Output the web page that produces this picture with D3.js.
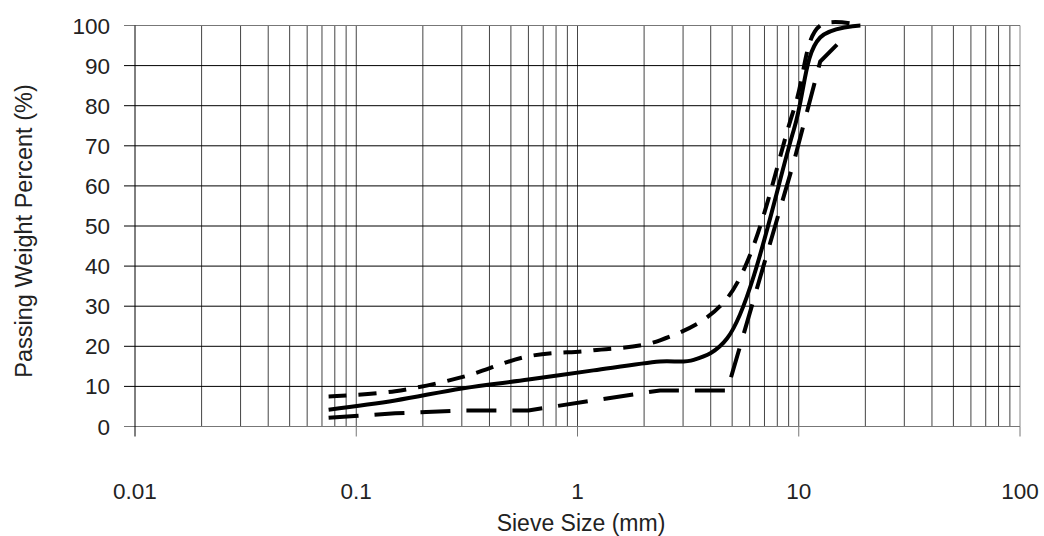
<!DOCTYPE html>
<html>
<head>
<meta charset="utf-8">
<script src="https://cdn.jsdelivr.net/npm/d3@7"></script>
<style>
  body { margin: 0; background: #fff; }
  svg text { font-family: "Liberation Sans", Arial, sans-serif; fill: #222; }
</style>
</head>
<body>
<div id="chartPlaceholder"></div>
<script>
// gradation data (sieve size in mm, % passing)
const mixSizes = [0.075, 0.15, 0.3, 0.6, 1.18, 2.36, 3.35, 4.75, 9.5, 12.5, 19];
const mixPassing = [4.2, 6.5, 9.5, 11.7, 14, 16.2, 16.6, 22, 74, 97, 100];

const upperSizes = [0.075, 0.15, 0.3, 0.6, 1.18, 2.36, 4.75, 9.5, 12.5, 19];
const upperPassing = [7.5, 8.8, 12.3, 17.5, 19, 21.5, 32, 79, 100, 100];

const lowerSizes = [0.075, 0.15, 0.3, 0.6, 1.18, 2.36, 4.75, 9.5, 12.5, 16];
const lowerPassing = [2.2, 3.3, 4, 4, 6.5, 9, 9, 66, 91, 97];

const xTickValues = [0.01, 0.1, 1, 10, 100];
const xTickLabels = ["0.01", "0.1", "1", "10", "100"];
const yTickValues = [0, 10, 20, 30, 40, 50, 60, 70, 80, 90, 100];

const width = 1044,
  height = 536;

const svg = d3
  .select("#chartPlaceholder")
  .append("svg")
  .attr("width", width)
  .attr("height", height);

const x = d3.scaleLog().domain([0.01, 100]).range([135, 1020]);
const y = d3.scaleLinear().domain([0, 100]).range([426.5, 25.5]);

// vertical log grid (1..9 per decade)
const gridX = [];
for (let d = 0.01; d < 99; d *= 10) {
  for (let k = 1; k <= 9; k++) gridX.push(+(k * d).toPrecision(3));
}
gridX.push(100);

svg
  .append("g")
  .selectAll("line")
  .data(gridX.filter((v) => v > 0.01))
  .join("line")
  .attr("x1", (d) => x(d))
  .attr("x2", (d) => x(d))
  .attr("y1", y(100))
  .attr("y2", y(0))
  .attr("stroke", (d) => (d === 100 ? "#888" : "#444"))
  .attr("stroke-width", 1);

// horizontal grid + y ticks
svg
  .append("g")
  .selectAll("line")
  .data(yTickValues.filter((v) => v > 0))
  .join("line")
  .attr("x1", 124)
  .attr("x2", 1020)
  .attr("y1", (d) => y(d))
  .attr("y2", (d) => y(d))
  .attr("stroke", (d) => (d === 100 ? "#777" : "#000"))
  .attr("stroke-width", 1);

// bottom axis (gray) with decade ticks
svg
  .append("line")
  .attr("x1", 124)
  .attr("x2", 1020)
  .attr("y1", y(0))
  .attr("y2", y(0))
  .attr("stroke", "#777");

svg
  .append("g")
  .selectAll("line")
  .data(xTickValues.slice(1))
  .join("line")
  .attr("x1", (d) => x(d))
  .attr("x2", (d) => x(d))
  .attr("y1", y(0))
  .attr("y2", y(0) + 10)
  .attr("stroke", "#777");

// left axis (black)
svg
  .append("line")
  .attr("x1", x(0.01))
  .attr("x2", x(0.01))
  .attr("y1", y(100))
  .attr("y2", y(0) + 10)
  .attr("stroke", "#000");

// tick labels
svg
  .append("g")
  .selectAll("text")
  .data(yTickValues)
  .join("text")
  .attr("x", 110)
  .attr("y", (d) => y(d) + 8)
  .attr("text-anchor", "end")
  .style("font-size", "22.5px")
  .text((d) => d);

svg
  .append("g")
  .selectAll("text")
  .data(xTickValues)
  .join("text")
  .attr("x", (d) => x(d))
  .attr("y", 499)
  .attr("text-anchor", "middle")
  .style("font-size", "22.5px")
  .text((d, i) => xTickLabels[i]);

// axis titles
svg
  .append("text")
  .attr("x", 581)
  .attr("y", 531)
  .attr("text-anchor", "middle")
  .style("font-size", "23px")
  .text("Sieve Size (mm)");

svg
  .append("text")
  .attr("transform", "translate(32, 231) rotate(-90)")
  .attr("text-anchor", "middle")
  .style("font-size", "23.5px")
  .text("Passing Weight Percent (%)");

// curves
const smooth = d3
  .line()
  .x((d) => x(d[0]))
  .y((d) => y(d[1]))
  .curve(d3.curveCatmullRom);

const straight = d3
  .line()
  .x((d) => x(d[0]))
  .y((d) => y(d[1]));

const series = [
  { pts: d3.zip(lowerSizes, lowerPassing), gen: straight, dash: "30,16" },
  { pts: d3.zip(upperSizes, upperPassing), gen: smooth, dash: "18,12" },
  { pts: d3.zip(mixSizes, mixPassing), gen: smooth, dash: null },
];

svg
  .append("g")
  .selectAll("path")
  .data(series)
  .join("path")
  .attr("d", (s) => s.gen(s.pts))
  .attr("fill", "none")
  .attr("stroke", "#000")
  .attr("stroke-width", 4)
  .attr("stroke-dasharray", (s) => s.dash);
</script>
</body>
</html>
